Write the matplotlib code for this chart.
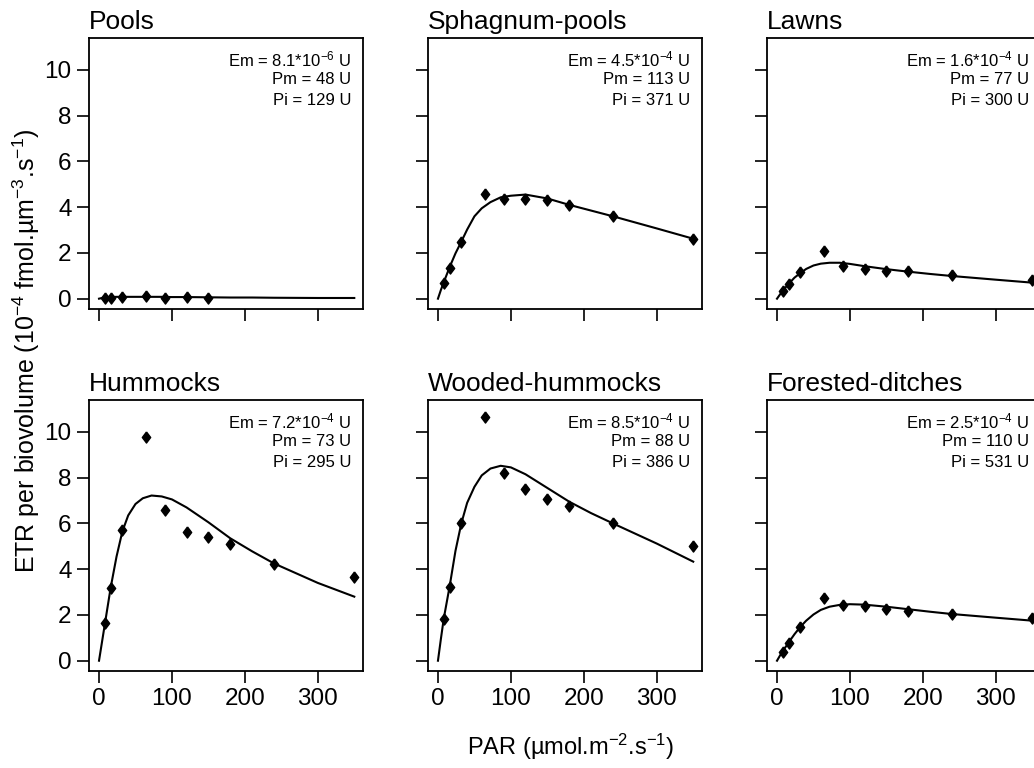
import matplotlib
matplotlib.use("Agg")
import matplotlib.pyplot as plt

plt.rcParams['font.family'] = ['Liberation Sans', 'DejaVu Sans']
plt.rcParams['mathtext.fontset'] = 'custom'
plt.rcParams['mathtext.rm'] = 'Liberation Sans'
plt.rcParams['mathtext.it'] = 'Liberation Sans:italic'
plt.rcParams['mathtext.default'] = 'regular'

# panel names, in reading order
sites = ["Pools", "Sphagnum-pools", "Lawns",
         "Hummocks", "Wooded-hummocks", "Forested-ditches"]

# measured PAR steps (Pools only has the first seven)
par = [8, 16, 32, 64, 90, 120, 150, 180, 240, 350]

# measured ETR per biovolume (10^-4 fmol.um-3.s-1)
etr_pools = [0.03, 0.05, 0.08, 0.1, 0.04, 0.06, 0.03]
etr_sphagnum = [0.67, 1.34, 2.49, 4.56, 4.36, 4.37, 4.32, 4.08, 3.6, 2.6]
etr_lawns = [0.32, 0.65, 1.16, 2.08, 1.42, 1.31, 1.21, 1.19, 1.02, 0.8]
etr_hummocks = [1.63, 3.18, 5.71, 9.78, 6.57, 5.63, 5.41, 5.09, 4.24, 3.66]
etr_wooded = [1.81, 3.23, 6.0, 10.67, 8.22, 7.5, 7.06, 6.75, 6.02, 5.01]
etr_forested = [0.38, 0.79, 1.48, 2.75, 2.44, 2.38, 2.26, 2.16, 2.04, 1.88]

# fitted curves
fit_par = [0, 4, 8, 16, 24, 32, 40, 50, 60, 72, 86, 100, 120, 150, 180, 210, 240, 300, 350]
fit_pools = [0, 0.03, 0.05, 0.07, 0.08, 0.08, 0.08, 0.08, 0.08, 0.08, 0.08, 0.07, 0.07,
             0.06, 0.05, 0.05, 0.04, 0.03, 0.03]
fit_sphagnum = [0, 0.38, 0.72, 1.38, 1.98, 2.49, 3.02, 3.6, 3.95, 4.22, 4.43, 4.5, 4.55,
                4.38, 4.1, 3.85, 3.6, 3.07, 2.62]
fit_lawns = [0, 0.18, 0.35, 0.65, 0.92, 1.12, 1.3, 1.45, 1.53, 1.57, 1.57, 1.52, 1.42,
             1.29, 1.18, 1.08, 0.99, 0.83, 0.7]
fit_hummocks = [0, 0.8, 1.6, 3.2, 4.55, 5.65, 6.35, 6.85, 7.1, 7.22, 7.18, 7.05, 6.7,
                6.05, 5.35, 4.78, 4.25, 3.4, 2.8]
fit_wooded = [0, 0.95, 1.85, 3.25, 4.8, 6.0, 6.9, 7.6, 8.1, 8.4, 8.52, 8.45, 8.15,
              7.55, 6.95, 6.45, 6.0, 5.12, 4.33]
fit_forested = [0, 0.22, 0.42, 0.8, 1.16, 1.48, 1.75, 2.02, 2.22, 2.36, 2.44, 2.47, 2.45,
                2.36, 2.25, 2.14, 2.04, 1.88, 1.75]

# model parameters printed in each panel
em_mant = ["8.1", "4.5", "1.6", "7.2", "8.5", "2.5"]
em_exp = [-6, -4, -4, -4, -4, -4]
pm = [48, 113, 77, 73, 88, 110]
pi = [129, 371, 300, 295, 386, 531]

etr = [etr_pools, etr_sphagnum, etr_lawns, etr_hummocks, etr_wooded, etr_forested]
fits = [fit_pools, fit_sphagnum, fit_lawns, fit_hummocks, fit_wooded, fit_forested]

diamond = [(0, 1), (0.75, 0), (0, -1), (-0.75, 0), (0, 1)]

fig = plt.figure(figsize=(10.34, 7.68), dpi=100)
lefts = [0.0861, 0.4139, 0.7418]
bottoms = [0.5977, 0.1263]
w, h = 0.265, 0.353

for i, name in enumerate(sites):
    row, col = divmod(i, 3)
    ax = fig.add_axes([lefts[col], bottoms[row], w, h])
    x = par[:len(etr[i])]
    ax.plot(fit_par, fits[i], color='black', lw=1.5, zorder=2)
    ax.plot(x, etr[i], linestyle='none', marker=diamond, markersize=8,
            color='black', zorder=3)
    ax.set_xlim(-13.7, 362)
    ax.set_ylim(-0.45, 11.4)
    ax.set_xticks([0, 100, 200, 300])
    ax.set_yticks([0, 2, 4, 6, 8, 10])
    ax.tick_params(direction='out', length=8.5, width=1.2, labelsize=17.5, pad=4)
    if col > 0:
        ax.set_yticklabels([])
    if row == 0:
        ax.set_xticklabels([])
    for s in ax.spines.values():
        s.set_linewidth(1.3)
    ax.set_title(name, loc='left', fontsize=19, pad=6.5)
    lines = ["Em = %s*10$^{%d}$ U" % (em_mant[i], em_exp[i]),
             "Pm = %d U" % pm[i],
             "Pi = %d U" % pi[i]]
    for k, t in enumerate(lines):
        ax.text(0.957, 0.922 - k * 0.076, t, transform=ax.transAxes,
                ha='right', va='center', fontsize=12)

fig.text(0.025, 0.543,
         "ETR per biovolume (10$^{-4}$ fmol.\u00b5m$^{-3}$.s$^{-1}$)",
         rotation=90, ha='center', va='center', fontsize=18)
fig.text(0.552, 0.027, "PAR (\u00b5mol.m$^{-2}$.s$^{-1}$)",
         ha='center', va='center', fontsize=17)

fig.savefig("out.png", dpi=100)
